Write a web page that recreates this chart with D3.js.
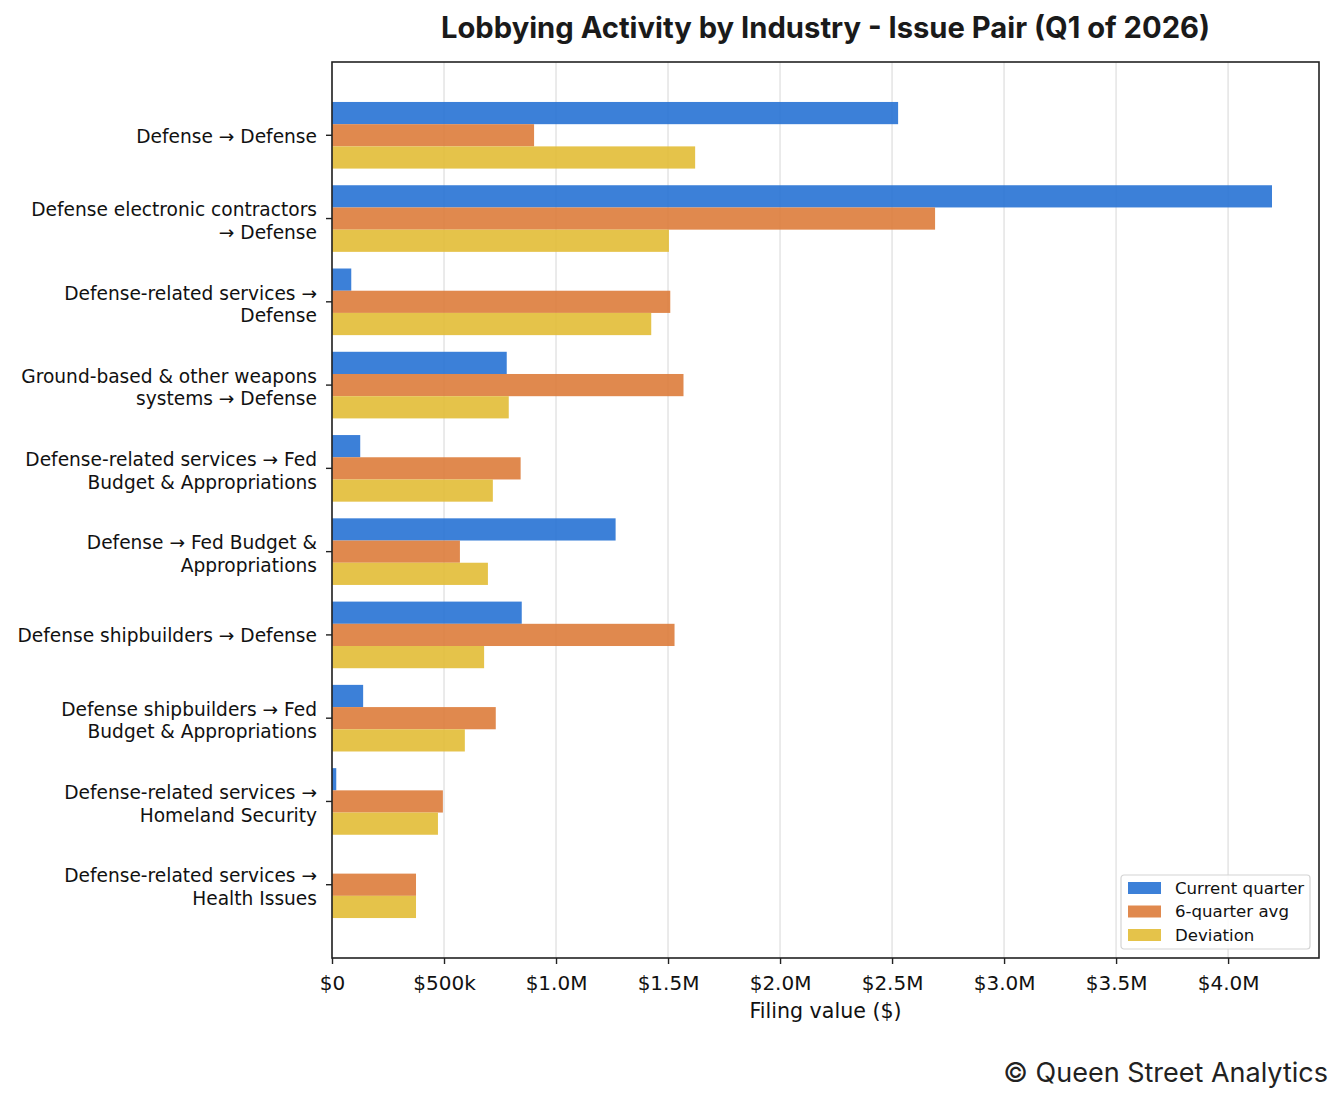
<!DOCTYPE html>
<html lang="en">
<head>
    <meta charset="UTF-8">
    <title>Lobbying Activity by Industry - Issue Pair (Q1 of 2026)</title>
    <script src="https://d3js.org/d3.v7.min.js"></script>
    <style>
        body {
            margin: 0;
            background: #fff;
        }

        .tick text {
            font-family: "DejaVu Sans", sans-serif;
            fill: #111;
        }

        .eje_x .tick text {
            font-size: 20px;
        }

        .eje_y .tick text {
            font-size: 18.6px;
        }

        .eje {
            font-family: "DejaVu Sans", sans-serif;
            font-size: 20.6px;
            fill: #111;
        }

        .titulo {
            font-family: Inter, sans-serif;
            font-weight: 700;
            font-size: 29.2px;
            fill: #1a1a1a;
        }

        .firma {
            font-family: Inter, sans-serif;
            font-size: 27px;
            fill: #222;
        }

        .leyenda {
            font-family: "DejaVu Sans", sans-serif;
            font-size: 16.6px;
            fill: #111;
        }
    </style>
</head>
<body>
<svg width="1344" height="1104"></svg>

<script type="application/javascript">

    // categorias (industria -> tema), con saltos de linea como en el original
    const categorias = [
        "Defense → Defense",
        "Defense electronic contractors\n→ Defense",
        "Defense-related services →\nDefense",
        "Ground-based & other weapons\nsystems → Defense",
        "Defense-related services → Fed\nBudget & Appropriations",
        "Defense → Fed Budget &\nAppropriations",
        "Defense shipbuilders → Defense",
        "Defense shipbuilders → Fed\nBudget & Appropriations",
        "Defense-related services →\nHomeland Security",
        "Defense-related services →\nHealth Issues"
    ]

    const series = ["Current quarter", "6-quarter avg", "Deviation"]

    // valores en dolares
    const trimestre_actual = [2527000, 4196000, 86000, 780000, 126000, 1266000, 847000, 139000, 19000, 0]
    const promedio_6 = [902000, 2692000, 1510000, 1569000, 842000, 571000, 1529000, 731000, 495000, 375000]
    const desviacion = [1621000, 1504000, 1425000, 789000, 718000, 696000, 679000, 593000, 473000, 375000]

    const ticks_x = [0, 500000, 1000000, 1500000, 2000000, 2500000, 3000000, 3500000, 4000000]
    const etiquetas_x = ["$0", "$500k", "$1.0M", "$1.5M", "$2.0M", "$2.5M", "$3.0M", "$3.5M", "$4.0M"]

    const colores = ["#2772d4", "#dd7c3b", "#e2bc36"]

    const izq = 332, der = 1319, arriba = 62, abajo = 958

    const svg = d3.select("svg")

    const datos = categorias.map(function (c, i) {
        return {categoria: c, valores: [trimestre_actual[i], promedio_6[i], desviacion[i]]}
    })

    const x = d3.scaleLinear()
        .domain([0, d3.max(trimestre_actual) * 1.05])
        .range([izq, der])

    const y = d3.scaleBand()
        .domain(categorias)
        .range([arriba, abajo])
        .paddingInner(0.2)
        .paddingOuter(0.48)

    const y_serie = d3.scaleBand()
        .domain(series)
        .range([0, y.bandwidth()])

    // lineas de la grilla (verticales)
    svg.append("g")
        .selectAll("line")
        .data(ticks_x)
        .enter()
        .append("line")
        .attr("x1", d => x(d))
        .attr("x2", d => x(d))
        .attr("y1", arriba)
        .attr("y2", abajo)
        .attr("stroke", "#e6e6e6")
        .attr("stroke-width", 1.6)

    // barras
    const grupos = svg.append("g")
        .selectAll("g")
        .data(datos)
        .enter()
        .append("g")
        .attr("transform", d => "translate(0," + y(d.categoria) + ")")

    grupos.selectAll("rect")
        .data(d => d.valores.map((v, j) => ({serie: series[j], valor: v, j: j})))
        .enter()
        .append("rect")
        .attr("x", x(0))
        .attr("y", d => y_serie(d.serie))
        .attr("width", d => x(d.valor) - x(0))
        .attr("height", y_serie.bandwidth())
        .attr("fill", d => colores[d.j])
        .attr("fill-opacity", 0.9)

    // eje x
    const eje_x = svg.append("g")
        .attr("class", "eje_x")
        .attr("transform", "translate(0," + abajo + ")")
        .call(d3.axisBottom(x)
            .tickValues(ticks_x)
            .tickFormat((d, i) => etiquetas_x[i])
            .tickSize(6)
            .tickPadding(12))
    eje_x.select(".domain").remove()
    eje_x.selectAll(".tick line").attr("stroke", "#222").attr("stroke-width", 1.4)

    // eje y
    const eje_y = svg.append("g")
        .attr("class", "eje_y")
        .attr("transform", "translate(" + izq + ",0)")
        .call(d3.axisLeft(y).tickSize(6).tickPadding(8))
    eje_y.select(".domain").remove()
    eje_y.selectAll(".tick line").attr("stroke", "#222").attr("stroke-width", 1.4)

    // etiquetas en varias lineas
    eje_y.selectAll(".tick text")
        .each(function (d) {
            const lineas = d.split("\n")
            const t = d3.select(this)
            t.text(null)
            const n = lineas.length
            const ajuste = n > 1 ? 2.5 : 1
            lineas.forEach(function (l, k) {
                t.append("tspan")
                    .attr("x", -15)
                    .attr("y", (k - (n - 1) / 2) * 22.5 + ajuste)
                    .attr("dy", "0.35em")
                    .text(l)
            })
        })

    // marco del grafico
    svg.append("rect")
        .attr("x", izq)
        .attr("y", arriba)
        .attr("width", der - izq)
        .attr("height", abajo - arriba)
        .attr("fill", "none")
        .attr("stroke", "#222")
        .attr("stroke-width", 1.6)

    // titulo
    svg.append("text")
        .attr("class", "titulo")
        .attr("x", (izq + der) / 2)
        .attr("y", 37.5)
        .attr("text-anchor", "middle")
        .text("Lobbying Activity by Industry - Issue Pair (Q1 of 2026)")

    // titulo del eje x
    svg.append("text")
        .attr("class", "eje")
        .attr("x", (izq + der) / 2)
        .attr("y", 1018)
        .attr("text-anchor", "middle")
        .text("Filing value ($)")

    // leyenda
    const leyenda = svg.append("g")
        .attr("transform", "translate(1121,875)")

    leyenda.append("rect")
        .attr("width", 189)
        .attr("height", 74)
        .attr("rx", 3)
        .attr("fill", "#fff")
        .attr("fill-opacity", 0.85)
        .attr("stroke", "#d4d4d4")
        .attr("stroke-width", 1.2)

    const items = leyenda.selectAll("g.item")
        .data(series)
        .enter()
        .append("g")
        .attr("class", "item")
        .attr("transform", (d, i) => "translate(7," + (13 + i * 23.5) + ")")

    items.append("rect")
        .attr("x", 0)
        .attr("y", -6)
        .attr("width", 33)
        .attr("height", 12)
        .attr("fill", (d, i) => colores[i])
        .attr("fill-opacity", 0.9)

    items.append("text")
        .attr("class", "leyenda")
        .attr("x", 47)
        .attr("y", 0)
        .attr("dy", "0.35em")
        .text(d => d)

    // firma
    svg.append("text")
        .attr("class", "firma")
        .attr("x", 1328)
        .attr("y", 1082)
        .attr("text-anchor", "end")
        .text("© Queen Street Analytics")

</script>
</body>
</html>
